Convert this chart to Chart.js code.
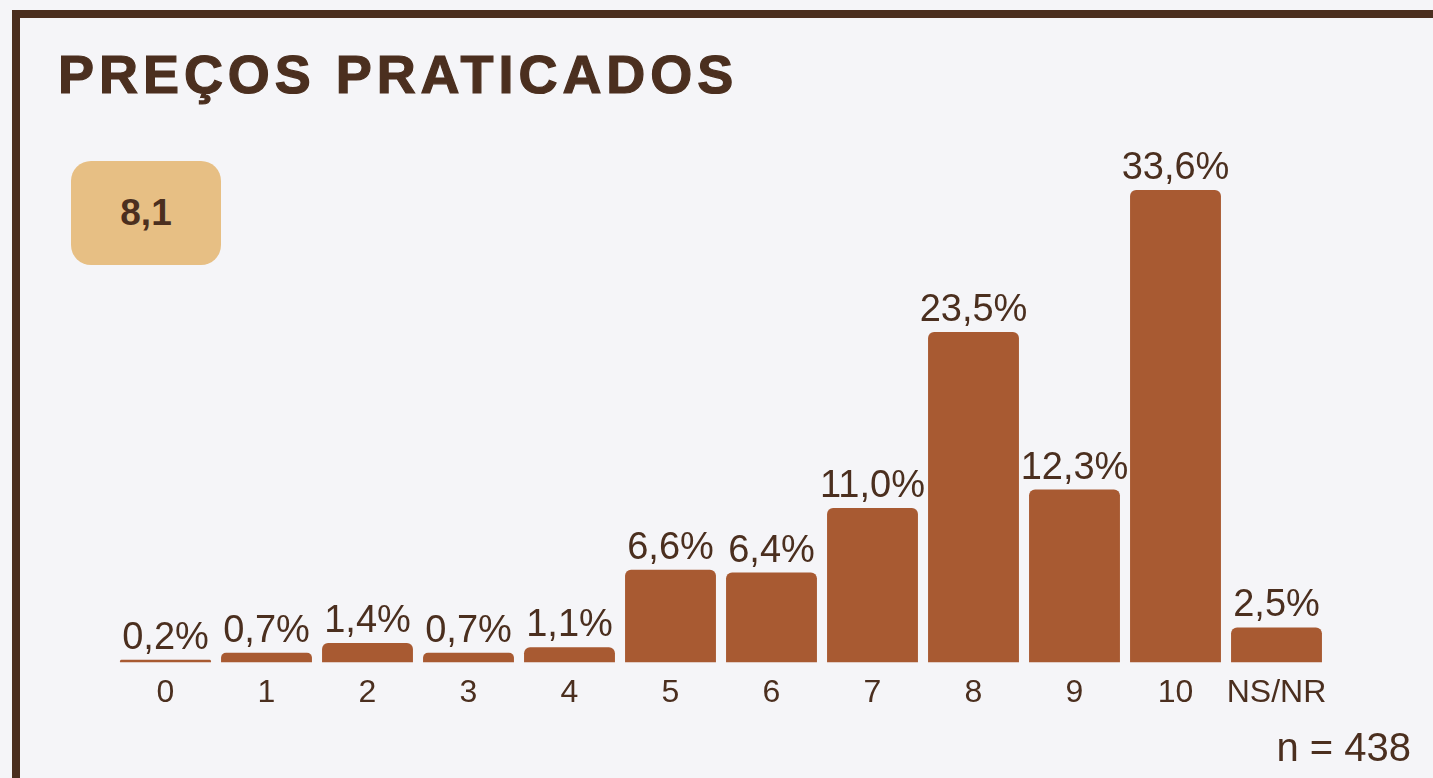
<!DOCTYPE html>
<html>
<head>
<meta charset="utf-8">
<script src="https://cdn.jsdelivr.net/npm/chart.js@4.4.1/dist/chart.umd.min.js"></script>
<style>
  html, body { margin: 0; padding: 0; background: #f5f5f8; }
  body { width: 1433px; height: 778px; position: relative; overflow: hidden; }
  #frameTop { position: absolute; left: 12px; top: 10px; width: 1421px; height: 8px; background: #4b2f1f; }
  #frameLeft { position: absolute; left: 12px; top: 10px; width: 8px; height: 768px; background: #4b2f1f; }
  #title { position: absolute; left: 58px; top: 39px; font-family: "Liberation Sans", Arial, sans-serif; font-weight: 700;
           font-size: 54px; line-height: 70px; letter-spacing: 4.95px; color: #4b2f1f; -webkit-text-stroke: 1.2px #4b2f1f; white-space: nowrap; }
  #badge { position: absolute; left: 71px; top: 161px; width: 150px; height: 104px; border-radius: 20px; background: #e7bf84;
           display: flex; align-items: center; justify-content: center; font-family: "Liberation Sans", Arial, sans-serif;
           font-weight: 700; font-size: 37px; color: #4b2f1f; }
  #n { position: absolute; right: 22px; top: 725px; font-family: "Liberation Sans", Arial, sans-serif; font-size: 40px; color: #4b2f1f; white-space: nowrap; }
  #chart { position: absolute; left: 0; top: 0; }
</style>
</head>
<body>
<div id="frameTop"></div>
<div id="frameLeft"></div>
<div id="title">PREÇOS PRATICADOS</div>
<div id="badge">8,1</div>
<canvas id="chart" width="1433" height="778"></canvas>
<div id="n">n = 438</div>
<script>
const categories = ["0", "1", "2", "3", "4", "5", "6", "7", "8", "9", "10", "NS/NR"];
const percentages = [0.2, 0.7, 1.4, 0.7, 1.1, 6.6, 6.4, 11.0, 23.5, 12.3, 33.6, 2.5];
const barColor = "#a85a32";
const textColor = "#4b2f1f";

const valueLabels = {
  id: "valueLabels",
  afterDatasetsDraw(chart) {
    const ctx = chart.ctx;
    const meta = chart.getDatasetMeta(0);
    ctx.save();
    ctx.font = '38px "Liberation Sans", Arial, sans-serif';
    ctx.fillStyle = textColor;
    ctx.textAlign = "center";
    ctx.textBaseline = "alphabetic";
    meta.data.forEach((bar, i) => {
      const txt = percentages[i].toFixed(1).replace(".", ",") + "%";
      ctx.fillText(txt, bar.x, bar.y - 11);
    });
    ctx.restore();
  }
};

new Chart(document.getElementById("chart"), {
  type: "bar",
  data: {
    labels: categories,
    datasets: [{
      data: percentages,
      backgroundColor: barColor,
      barPercentage: 0.9,
      categoryPercentage: 1.0,
      borderRadius: { topLeft: 6, topRight: 6, bottomLeft: 0, bottomRight: 0 },
      borderSkipped: "bottom"
    }]
  },
  options: {
    responsive: false,
    animation: false,
    events: [],
    layout: { padding: { left: 115, right: 106, top: 100, bottom: 55 } },
    plugins: { legend: { display: false }, tooltip: { enabled: false } },
    scales: {
      x: {
        grid: { display: false, drawTicks: false },
        border: { display: false },
        ticks: { color: textColor, font: { family: '"Liberation Sans", Arial, sans-serif', size: 32 }, padding: 11, maxRotation: 0, autoSkip: false }
      },
      y: { display: false, min: 0, max: 40 }
    }
  },
  plugins: [valueLabels]
});
</script>
</body>
</html>
